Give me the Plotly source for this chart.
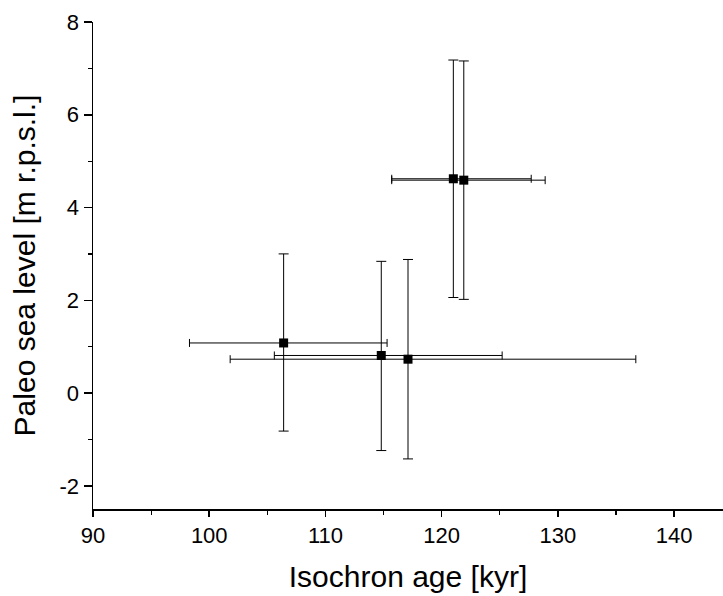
import plotly.graph_objects as go

# Data
age = [106.4, 114.8, 117.1, 121.0, 121.9]
age_err_minus = [8.1, 9.2, 15.3, 5.3, 6.2]
age_err_plus = [8.9, 10.4, 19.6, 6.7, 7.0]
sea_level = [1.08, 0.81, 0.73, 4.62, 4.59]
sea_err_minus = [1.90, 2.05, 2.15, 2.56, 2.57]
sea_err_plus = [1.92, 2.03, 2.15, 2.56, 2.57]

x_tickvals = [90, 100, 110, 120, 130, 140]
x_ticktext = ["90", "100", "110", "120", "130", "140"]
y_tickvals = [-2, 0, 2, 4, 6, 8]
y_ticktext = ["-2", "0", "2", "4", "6", "8"]

FONT = "Liberation Sans, Arial, sans-serif"

fig = go.Figure()
fig.add_trace(go.Scatter(
    x=age, y=sea_level, mode="markers",
    marker=dict(symbol="square", size=9, color="black"),
    error_x=dict(type="data", symmetric=False, array=age_err_plus,
                 arrayminus=age_err_minus, color="black", thickness=1, width=4),
    error_y=dict(type="data", symmetric=False, array=sea_err_plus,
                 arrayminus=sea_err_minus, color="black", thickness=1, width=5),
    showlegend=False,
))

fig.update_layout(
    width=723, height=596,
    margin=dict(l=93, r=0, t=22, b=87),
    paper_bgcolor="white", plot_bgcolor="white",
    font=dict(family=FONT, color="black"),
    xaxis=dict(
        range=[90, 144.2], showgrid=False, zeroline=False,
        showline=True, linecolor="black", linewidth=1.5,
        ticks="outside", ticklen=6, tickwidth=1.5, tickcolor="black",
        tickvals=x_tickvals, ticktext=x_ticktext,
        tickfont=dict(size=22, family=FONT),
        minor=dict(ticks="outside", ticklen=4, tickwidth=1.2, tickcolor="black", dtick=5, showgrid=False),
        title=dict(text="Isochron age [kyr]", font=dict(size=30, family=FONT), standoff=19),
    ),
    yaxis=dict(
        range=[-2.5, 8], showgrid=False, zeroline=False,
        showline=True, linecolor="black", linewidth=1.5,
        ticks="outside", ticklen=8, tickwidth=1.5, tickcolor="black",
        tickvals=y_tickvals, ticktext=y_ticktext,
        tickfont=dict(size=22, family=FONT),
        minor=dict(ticks="outside", ticklen=4, tickwidth=1.2, tickcolor="black", dtick=1, showgrid=False),
        title=dict(text="Paleo sea level [m r.p.s.l.]", font=dict(size=30, family=FONT), standoff=15),
    ),
)

# remove the browser's default 8px body margin so the figure fills the window exactly
fig.write_html(
    "out.html",
    config={"displayModeBar": False, "staticPlot": True},
    post_script="document.body.style.margin='0';document.body.style.overflow='hidden';",
)
